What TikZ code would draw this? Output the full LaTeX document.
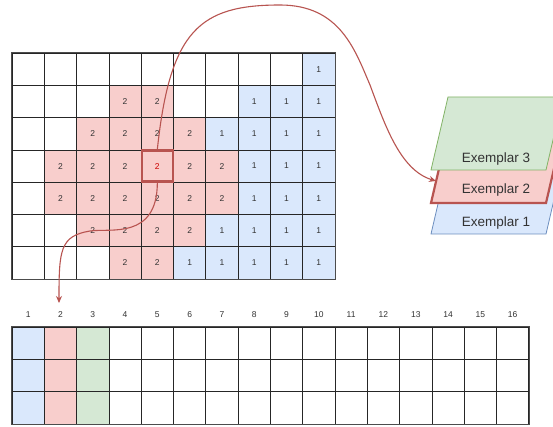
\documentclass[tikz,border=0pt]{standalone}
\usepackage{fontspec}
\setmainfont{Liberation Sans}
\usetikzlibrary{arrows.meta}
\definecolor{cblue}{HTML}{DAE8FC}
\definecolor{cred}{HTML}{F8CECC}
\definecolor{cgreen}{HTML}{D5E8D4}
\definecolor{eblue}{HTML}{6C8EBF}
\definecolor{ered}{HTML}{B85450}
\definecolor{egreen}{HTML}{82B366}
\definecolor{txt}{HTML}{333333}
\tikzset{
  cell/.style={draw=black!85, line width=0.7pt, minimum width=32.3pt, minimum height=32.3pt, inner sep=0pt, font=\fontsize{8.5}{9}\selectfont, text=txt},
  k0/.style={fill=white},
  k1/.style={fill=cblue},
  k2/.style={fill=cred},
  k3/.style={fill=cgreen},
  hdr/.style={font=\fontsize{8.5}{9}\selectfont, text=txt, inner sep=1pt},
  frame/.style={draw=black!70, line width=1.3pt},
  link/.style={draw=ered, line width=1.1pt, -{Stealth[length=7pt,width=6pt]}},
  exlabel/.style={font=\fontsize{13.5}{14}\selectfont, text=txt, inner sep=0pt}
}
\begin{document}
\begin{tikzpicture}[x=1pt,y=-1pt]
\clip (0,0) rectangle (553,427);
\fill[white] (0,0) rectangle (553,427);
% top grid
\foreach \r/\vals in {1/{0,0,0,0,0,0,0,0,0,1},2/{0,0,0,2,2,0,0,1,1,1},3/{0,0,2,2,2,2,1,1,1,1},4/{0,2,2,2,2,2,2,1,1,1},5/{0,2,2,2,2,2,2,1,1,1},6/{0,0,2,2,2,2,1,1,1,1},7/{0,0,0,2,2,1,1,1,1,1}}{
  \foreach \v [count=\c] in \vals {
    \node[cell, k\v] (g-\r-\c) at ({12+32.3*(\c-0.5)},{53+32.3*(\r-0.5)}) {\ifnum\v=0 \else\v\fi};
  }
}
\draw[frame] (g-1-1.north west) rectangle (g-7-10.south east);
% highlighted cell
\node[cell, draw=ered, line width=2.6pt, fill=cred, text=red!80!black, minimum width=31pt, minimum height=31pt] (hl) at (g-4-5) {2};
% bottom table
\foreach \c in {1,...,16}{
  \node[hdr] (h\c) at ({12+32.3*(\c-0.5)},315) {\c};
  \foreach \r in {1,2,3}{
    \pgfmathtruncatemacro{\k}{\c<4 ? (\c==1 ? 1 : (\c==2 ? 2 : 3)) : 0}
    \node[cell, k\k] (b-\r-\c) at ({12+32.3*(\c-0.5)},{327+32.3*(\r-0.5)}) {};
  }
}
\draw[frame] (b-1-1.north west) rectangle (b-3-16.south east);
% exemplar stack
\draw[eblue, fill=cblue, line width=0.8pt] (431,234) -- (546,234) -- (563,161) -- (448,161) -- cycle;
\node[exlabel] (ex1) at (496,223) {Exemplar 1};
\draw[ered, fill=cred, line width=2.2pt] (431,203) -- (546,203) -- (563,130) -- (448,130) -- cycle;
\node[exlabel] (ex2) at (496,190) {Exemplar 2};
\coordinate (ex2in) at (436,181);
\draw[egreen, fill=cgreen, line width=0.8pt] (431,170) -- (546,170) -- (563,97) -- (448,97) -- cycle;
\node[exlabel] (ex3) at (496,159) {Exemplar 3};
% connectors
\draw[link] (hl.north) .. controls (170,30) and (200,5) .. (280,5)
  .. controls (340,5) and (355,50) .. (370,85)
  .. controls (385,125) and (400,170) .. (ex2in);
\coordinate (h2top) at (59,303);
\draw[link] (hl.south) .. controls (157,240) and (110,228) .. (90,231)
  .. controls (60,236) and (59,250) .. (h2top);
\end{tikzpicture}
\end{document}
